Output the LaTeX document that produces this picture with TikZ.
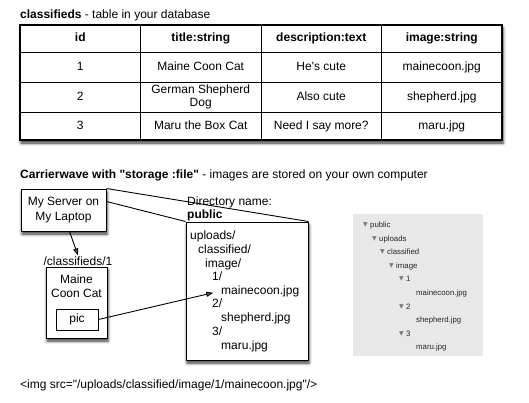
\documentclass[tikz,border=0pt]{standalone}
\usepackage{fontspec}
\setmainfont{Liberation Sans}[Ligatures=TeXOff]
\newfontfamily\symfont{DejaVu Sans}
\usetikzlibrary{arrows.meta,shadows.blur}
\definecolor{panelgray}{HTML}{E8E8E8}
\definecolor{itemgray}{HTML}{262626}
\definecolor{trigray}{HTML}{7A7A7A}
\tikzset{
  shadowed/.style={fill=white, blur shadow={shadow xshift=1pt, shadow yshift=-3pt, shadow blur radius=3pt, shadow opacity=80}},
  box/.style={rectangle, draw, line width=1pt, shadowed},
  cell/.style={align=center, text height=9pt, text depth=2.5pt},
  head/.style={cell, font=\fontsize{12}{13}\selectfont\bfseries},
  dirline/.style={anchor=base west, inner sep=0pt},
  tri/.style={font=\symfont\fontsize{6}{6}\selectfont, text=trigray, inner sep=0pt},
  item/.style={anchor=west, font=\fontsize{7.8}{9}\selectfont, text=itemgray, inner sep=0pt},
  ptr/.style={-{Triangle[length=7pt,width=5pt]}, line width=0.9pt}
}
\begin{document}
\begin{tikzpicture}[x=1pt, y=-1pt, every node/.style={font=\fontsize{12}{13}\selectfont, inner sep=1pt}]
  \useasboundingbox (0,0) rectangle (529,402);
  % Table
  \node (tabtitle) [anchor=west] at (19,15) {\textbf{classifieds} - table in your database};
  \draw[shadowed, line width=1.2pt] (20,25) rectangle (502,140);
  \foreach \y in {52, 82, 112}
    \draw[line width=0.9pt] (20,\y) -- (502,\y);
  \foreach \x in {140.5, 261, 381.5}
    \draw[line width=0.9pt] (\x,25) -- (\x,140);
  \node (hid) [head] at (80.25,38.5) {id};
  \node (htitle) [head] at (200.75,38.5) {title:string};
  \node (hdesc) [head] at (321.25,38.5) {description:text};
  \node (himage) [head] at (441.75,38.5) {image:string};
  \node (id1) [cell] at (80.25,67) {1};
  \node (title1) [cell] at (200.75,67) {Maine Coon Cat};
  \node (desc1) [cell] at (321.25,67) {He's cute};
  \node (image1) [cell] at (441.75,67) {mainecoon.jpg};
  \node (id2) [cell] at (80.25,97) {2};
  \node (title2) [align=center] at (200.75,97) {German Shepherd\\Dog};
  \node (desc2) [cell] at (321.25,97) {Also cute};
  \node (image2) [cell] at (441.75,97) {shepherd.jpg};
  \node (id3) [cell] at (80.25,126) {3};
  \node (title3) [cell] at (200.75,126) {Maru the Box Cat};
  \node (desc3) [cell] at (321.25,126) {Need I say more?};
  \node (image3) [cell] at (441.75,126) {maru.jpg};
  % Carrierwave
  \node (cwtitle) [anchor=west] at (19,175) {\textbf{Carrierwave with "storage :file"} - images are stored on your own computer};
  \node (srv) [box, minimum width=85pt, minimum height=42pt, align=center, font=\fontsize{12}{15}\selectfont] at (63.5,210) {My Server on\\My Laptop};
  \node (route) at (78,261) {/classifieds/1};
  \node (cat) [box, minimum width=61pt, minimum height=71pt] at (76.5,302.5) {};
  \node (cattitle) [align=center, font=\fontsize{12}{14}\selectfont] at (76.5,286.5) {Maine\\Coon Cat};
  \node (pic) [rectangle, draw, line width=0.9pt, minimum width=42pt, minimum height=21pt] at (77,319.5) {pic};
  % Directory
  \node (dirname) [anchor=west, align=left, inner sep=0pt, font=\fontsize{12}{12.5}\selectfont] at (187,209) {Directory name:\\\textbf{public}};
  \node (pub) [box, minimum width=122pt, minimum height=138pt] at (247,291) {};
  \node (d1) [dirline] at (190,239) {uploads/};
  \node (d2) [dirline] at (198,253) {classified/};
  \node (d3) [dirline] at (205,267) {image/};
  \node (d4) [dirline] at (212,280.5) {1/};
  \node (d5) [dirline] at (221,294) {mainecoon.jpg};
  \node (d6) [dirline] at (212,307.5) {2/};
  \node (d7) [dirline] at (221,321) {shepherd.jpg};
  \node (d8) [dirline] at (212,335) {3/};
  \node (d9) [dirline] at (221,349) {maru.jpg};
  % Arrows
  \draw[ptr] ([xshift=6pt]srv.south) -- (route.north);
  \draw[ptr, shorten >=8pt] (pic.east) -- (d5.west);
  \draw[line width=0.9pt] (srv.north east) -- (pub.north east);
  \draw[line width=0.9pt] ([yshift=-13pt]srv.north east) -- (pub.north west);
  % Finder panel
  \fill[panelgray] (353,214) rectangle (483,356);
  \foreach \x/\y/\t [count=\i] in {370/225/public, 379/239/uploads, 387/252/classified, 396/266/image, 406/279/1, 406/307/2, 406/334/3} {
    \node (tri\i) [tri] at (\x-4.5,\y) {▼};
    \node (fold\i) [item] at (\x,\y) {\t};
  }
  \node (file1) [item] at (416,293) {mainecoon.jpg};
  \node (file2) [item] at (416,320) {shepherd.jpg};
  \node (file3) [item] at (416,347) {maru.jpg};
  % Markup
  \node (markup) [anchor=west] at (19,385) {<img src="/uploads/classified/image/1/mainecoon.jpg"/>};
\end{tikzpicture}
\end{document}
